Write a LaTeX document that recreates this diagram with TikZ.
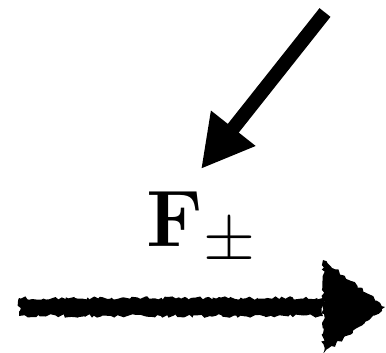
\documentclass[tikz,border=0pt]{standalone}
\usepackage{amsmath,amssymb}
\usetikzlibrary{arrows.meta,positioning,calc,decorations.pathmorphing}

\begin{document}
\begin{tikzpicture}[x=0.5pt, y=-0.5pt,
  force/.style={-{Triangle[length=26pt, width=26.5pt]}, line width=7pt},
  rough/.style={fill=black, decorate, decoration={random steps, segment length=1.5pt, amplitude=0.9pt}},
  lbl/.style={inner sep=0pt, anchor=base, font=\Huge, scale=1.61}
]
\useasboundingbox (0,0) rectangle (386,353);
\coordinate (f0) at (325,12.5);
\coordinate (f1) at (201,169);
\draw[force] (f0) -- (f1);
\node[lbl] (fpm) at (202,247) {$\mathbf{F}_{\pm}$};
% rough arrow below the label
\coordinate (s0) at (19,307);
\coordinate (s1) at (323,307);
\coordinate (tip) at (385,307);
\fill[rough] ($(s0)+(0,-9)$) -- ($(s1)+(0,-9)$) -- ($(s1)+(0,9)$) -- ($(s0)+(0,9)$) -- cycle;
\fill[rough] ($(s1)+(0,-47)$) -- (tip) -- ($(s1)+(0,47)$) -- cycle;
\end{tikzpicture}
\end{document}
